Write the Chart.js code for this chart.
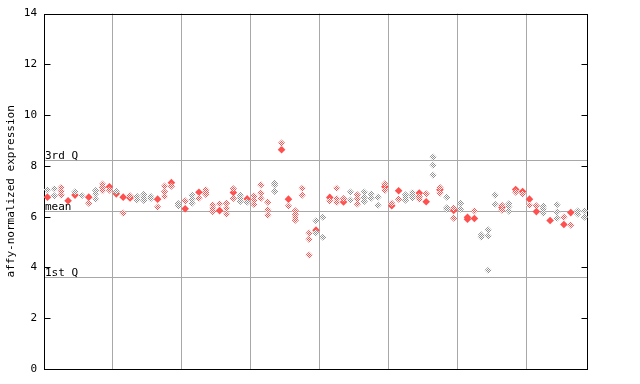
<!DOCTYPE html>
<html><head><meta charset="utf-8">
<script src="https://cdn.jsdelivr.net/npm/chart.js@4"></script>
<style>html,body{margin:0;padding:0;background:#fff}#wrap{width:640px;height:384px}</style>
</head><body>
<div id="wrap"><canvas id="c" width="640" height="384"></canvas></div>
<script>
const columnCount = 79;
const gridColumns = [10, 20, 30, 40, 50, 60, 70];
const yTicks = [0, 2, 4, 6, 8, 10, 12, 14];
const quartileLabels = ['3rd Q', 'mean', '1st Q'];
const quartileValues = [8.23, 6.23, 3.63];
const axisTitle = 'affy-normalized expression';

// values per sample column, solid red diamonds
const solidValues = [
 [6.77],[],[],[6.63],[6.85],[],[6.77],[],[],[7.18],
 [6.9],[6.77],[6.74],[],[],[],[6.69],[],[7.34],[],
 [6.31],[],[6.96],[],[],[6.24],[],[6.95],[],[6.7],
 [],[],[],[],[8.64],[6.69],[],[],[],[5.47],
 [],[6.76],[],[6.58],[],[],[],[],[],[7.18],
 [6.43],[7.02],[],[],[6.93],[6.59],[],[7.06],[],[6.25],
 [],[5.98,5.9],[5.93],[],[],[],[6.36],[],[7.07],[6.99],
 [6.69],[6.2],[],[5.85],[],[5.69],[6.16],[],[]
];
// values per sample column, dithered red diamonds
const redDitherValues = [
 [],[],[7.15,7.0,6.85],[],[],[],[6.53],[],[7.28,7.15,7.03],[7.05],
 [],[6.14],[6.82],[],[],[],[6.38],[7.2,6.98,6.8],[7.2],[],
 [6.62],[],[6.73],[7.06,6.95,6.88],[6.47,6.33,6.2],[6.51],[6.53,6.33,6.1],[7.1,6.72],[],[],
 [6.81,6.65,6.48],[7.25,6.93,6.72],[6.57,6.27,6.06],[],[8.9],[6.42],[6.23,6.1,5.97,5.86],[7.12,6.85],[5.35,5.11,4.49],[],
 [],[6.62],[7.12,6.71,6.56],[6.71],[],[6.86,6.7,6.5],[],[],[],[7.29,7.04],
 [6.53],[6.69],[],[],[6.8,6.69],[6.9],[],[7.15,6.93],[],[6.34,5.94],
 [],[],[6.23],[],[],[],[6.45,6.26],[],[6.97],[6.89],
 [6.45],[6.43],[],[],[],[5.98],[5.67],[],[]
];
// values per sample column, dithered grey diamonds
const greyDitherValues = [
 [7.06],[7.10,6.82],[],[],[6.98],[6.83],[],[7.03,6.9,6.69],[],[],
 [7.0],[],[],[6.8,6.66],[6.88,6.75,6.64],[6.8,6.71],[],[],[],[6.52,6.42],
 [],[6.85,6.69,6.53],[],[],[],[],[],[],[6.85,6.73,6.6],[6.57],
 [],[],[],[7.32,7.25,7.0],[],[],[],[],[],[5.84,5.36],
 [5.98,5.19],[],[],[],[6.97,6.65],[],[6.97,6.76,6.6],[6.89,6.73],[6.77,6.45],[],
 [],[],[6.86,6.76,6.65],[6.95,6.85,6.74],[],[],[8.35,8.03,7.64],[],[6.77,6.35,6.3],[],
 [6.53,6.3],[],[],[5.28,5.19],[5.48,5.24,3.89],[6.85,6.49],[],[6.51,6.4,6.22],[],[],
 [],[],[6.42,6.3,6.14],[],[6.47,6.18,5.94],[],[],[6.22,6.11],[6.23,5.98]
];

const RED = '#ff5050';
const GREY = '#8f8f8f';
const GRID = '#a8a8a8';
const FONT = "'DejaVu Sans Mono', 'Liberation Mono', monospace";

function toPoints(cols) {
  const out = [];
  cols.forEach((vals, i) => vals.forEach(v => out.push({x: i + 0.5, y: v})));
  return out;
}

const ctxMain = document.getElementById('c').getContext('2d');
function checker(color) {
  const pc = document.createElement('canvas');
  pc.width = 2; pc.height = 2;
  const p = pc.getContext('2d');
  p.fillStyle = '#ffffff'; p.fillRect(0, 0, 2, 2);
  p.fillStyle = color; p.fillRect(0, 0, 1, 1); p.fillRect(1, 1, 1, 1);
  return ctxMain.createPattern(pc, 'repeat');
}

const framePlugin = {
  id: 'frame',
  beforeDatasetsDraw(chart) {
    const {ctx, chartArea: a, scales: {y}} = chart;
    ctx.save();
    ctx.lineWidth = 1;
    ctx.strokeStyle = GRID;
    ctx.font = '11px ' + FONT;
    ctx.fillStyle = '#000';
    ctx.textBaseline = 'alphabetic';
    ctx.textAlign = 'left';
    quartileValues.forEach((v, i) => {
      const py = Math.round(y.getPixelForValue(v)) + 0.5;
      ctx.beginPath(); ctx.moveTo(a.left, py); ctx.lineTo(a.right, py); ctx.stroke();
      ctx.fillText(quartileLabels[i], a.left + 1, py - 1.5);
    });
    ctx.strokeStyle = '#000';
    const L = Math.round(a.left) + 0.5, R = Math.round(a.right) - 0.5;
    const T = Math.round(a.top) + 0.5, B = Math.round(a.bottom) + 0.5;
    ctx.strokeRect(L, T, R - L, B - T);
    yTicks.forEach(v => {
      const py = Math.round(y.getPixelForValue(v)) + 0.5;
      ctx.beginPath();
      ctx.moveTo(L, py); ctx.lineTo(L + 6, py);
      ctx.moveTo(R, py); ctx.lineTo(R - 6, py);
      ctx.stroke();
    });
    ctx.restore();
  }
};

const pointOpts = {pointStyle: 'rectRot', borderWidth: 0, pointBorderWidth: 0};
new Chart(ctxMain, {
  type: 'scatter',
  data: {
    datasets: [
      Object.assign({data: toPoints(greyDitherValues), backgroundColor: checker(GREY), pointRadius: 3.6}, pointOpts),
      Object.assign({data: toPoints(redDitherValues), backgroundColor: checker(RED), pointRadius: 3.6}, pointOpts),
      Object.assign({data: toPoints(solidValues), backgroundColor: RED, pointRadius: 3.8}, pointOpts)
    ]
  },
  options: {
    responsive: false,
    animation: false,
    events: [],
    layout: {padding: {left: 0, right: 52, top: 13, bottom: 15}},
    plugins: {legend: {display: false}, tooltip: {enabled: false}},
    scales: {
      x: {
        type: 'linear', min: 0, max: columnCount,
        afterBuildTicks: s => { s.ticks = gridColumns.map(v => ({value: v})); },
        afterFit: s => { s.height = 0; },
        ticks: {display: false},
        border: {display: false},
        grid: {color: GRID, lineWidth: 1, drawTicks: false}
      },
      y: {
        min: 0, max: 14,
        afterBuildTicks: s => { s.ticks = yTicks.map(v => ({value: v})); },
        afterFit: s => { s.width = 44; },
        grid: {display: false, drawTicks: false},
        border: {display: false},
        ticks: {color: '#000', padding: 7, font: {family: FONT, size: 11}},
        title: {display: true, text: axisTitle, color: '#000', font: {family: FONT, size: 11}, padding: {top: 5, bottom: 0}}
      }
    }
  },
  plugins: [framePlugin]
});
</script>
</body></html>
